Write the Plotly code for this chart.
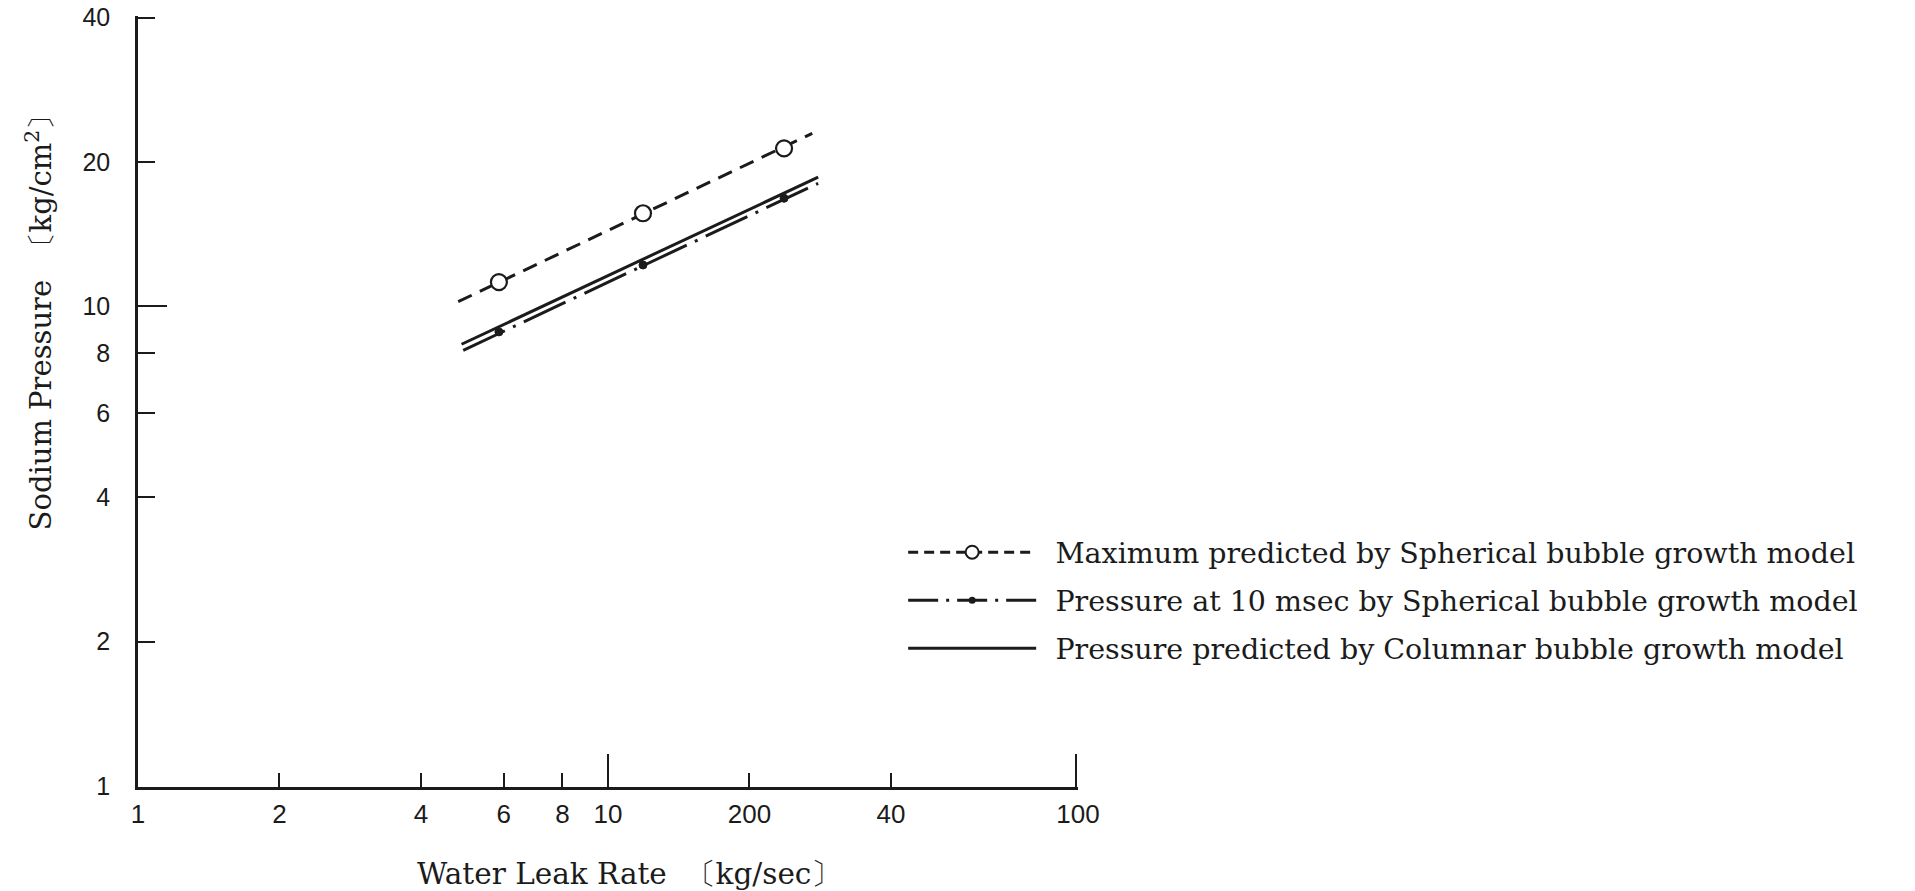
import plotly.graph_objects as go
import math

# ---- data ----
leak_rate_pts = [5.86, 11.87, 23.69]          # kg/sec, marker positions
max_pressure = [11.24, 15.64, 21.36]           # open circles
p10ms_pressure = [8.85, 12.20, 16.81]          # small dots

max_line_x = [4.80, 27.2]
max_line_y = [10.23, 22.95]
p10_line_x = [4.92, 28.0]
p10_line_y = [8.10, 18.06]
col_line_x = [4.88, 28.0]
col_line_y = [8.34, 18.6]

x_tickvals = [1, 2, 4, 6, 8, 10, 20, 40, 100]
x_ticktext = ["1", "2", "4", "6", "8", "10", "200", "40", "100"]
x_long_ticks = [10, 100]
y_tickvals = [1, 2, 4, 6, 8, 10, 20, 40]
y_ticktext = ["1", "2", "4", "6", "8", "10", "20", "40"]
y_long_ticks = [10]

names = [
    "Maximum predicted by Spherical bubble growth model",
    "Pressure at 10 msec by Spherical bubble growth model",
    "Pressure predicted by Columnar bubble growth model",
]

INK = "#1b1b1b"
DASH = "15px,9px"
DASHDOT = "46px,9px,3px,9px"
SERIF = "DejaVu Serif"
SANS = "Liberation Sans"
GAP = "\u2002"

fig = go.Figure()

# lines
fig.add_trace(go.Scatter(x=max_line_x, y=max_line_y, mode="lines",
                         line=dict(color=INK, width=3, dash=DASH), showlegend=False))
fig.add_trace(go.Scatter(x=p10_line_x, y=p10_line_y, mode="lines",
                         line=dict(color=INK, width=3, dash=DASHDOT), showlegend=False))
fig.add_trace(go.Scatter(x=col_line_x, y=col_line_y, mode="lines",
                         line=dict(color=INK, width=3), showlegend=False))
# markers
fig.add_trace(go.Scatter(x=leak_rate_pts, y=max_pressure, mode="markers",
                         marker=dict(symbol="circle", size=16, color="white",
                                     line=dict(color=INK, width=2.2)), showlegend=False))
fig.add_trace(go.Scatter(x=leak_rate_pts, y=p10ms_pressure, mode="markers",
                         marker=dict(symbol="circle", size=8, color=INK,
                                     line=dict(color=INK, width=1)), showlegend=False))

# legend entries
fig.add_trace(go.Scatter(x=[None], y=[None], mode="lines+markers", name=GAP + names[0],
                         legendgroup="a",
                         line=dict(color=INK, width=3, dash="10px,6px"),
                         marker=dict(symbol="circle", size=13, color="white",
                                     line=dict(color=INK, width=2))))
fig.add_trace(go.Scatter(x=[None], y=[None], mode="lines+markers", name=GAP + names[1],
                         legendgroup="b",
                         line=dict(color=INK, width=3, dash="30px,8px,3px,8px"),
                         marker=dict(symbol="circle", size=7, color=INK)))
fig.add_trace(go.Scatter(x=[None], y=[None], mode="lines", name=GAP + names[2],
                         legendgroup="c",
                         line=dict(color=INK, width=3)))

# empty traces so the overlay axes (long ticks) get drawn
fig.add_trace(go.Scatter(x=[None], y=[None], xaxis="x2", yaxis="y",
                         showlegend=False, hoverinfo="skip"))
fig.add_trace(go.Scatter(x=[None], y=[None], xaxis="x", yaxis="y2",
                         showlegend=False, hoverinfo="skip"))

axis_common = dict(type="log", showgrid=False, zeroline=False, showline=True,
                   linecolor=INK, linewidth=2.5, ticks="inside",
                   tickcolor=INK, tickwidth=1.6, automargin=False)

YTOP = math.log10(40)
YR = [-0.002, YTOP + 0.0035]

fig.update_layout(
    width=1915, height=891,
    paper_bgcolor="white", plot_bgcolor="white",
    margin=dict(l=138, r=837, t=16, b=104, autoexpand=False),
    xaxis=dict(**axis_common, range=[0, 2], tickvals=x_tickvals, ticktext=x_ticktext,
               ticklen=14, tickfont=dict(family=SANS, size=26, color=INK),
               ticklabelstandoff=2),
    yaxis=dict(**axis_common, range=YR, tickvals=y_tickvals,
               ticktext=y_ticktext, ticklen=17,
               tickfont=dict(family=SANS, size=25, color=INK),
               ticklabelstandoff=20),
    xaxis2=dict(type="log", overlaying="x", anchor="y", side="bottom",
                range=[-0.005, 2.005],
                showgrid=False, zeroline=False, showline=False, ticks="inside",
                tickvals=x_long_ticks, ticklen=33, tickwidth=1.8, tickcolor=INK,
                showticklabels=False, automargin=False),
    yaxis2=dict(type="log", overlaying="y", anchor="x", side="left",
                range=YR, showgrid=False, zeroline=False,
                showline=False, ticks="inside", tickvals=y_long_ticks, ticklen=29,
                tickwidth=1.8, tickcolor=INK, showticklabels=False, automargin=False),
    legend=dict(x=0.814, xanchor="left", y=0.337, yanchor="top",
                font=dict(family=SERIF, size=28.5, color=INK),
                itemwidth=128, tracegroupgap=8, traceorder="grouped",
                bgcolor="rgba(0,0,0,0)"),
    annotations=[
        dict(text="Sodium Pressure  〔kg/cm<sup>2</sup>〕", xref="paper", yref="paper",
             x=-0.105, y=0.612, xanchor="center", yanchor="middle",
             textangle=-90, showarrow=False,
             font=dict(family=SERIF, size=29, color=INK)),
        dict(text="Water Leak Rate  〔kg/sec〕", xref="paper", yref="paper",
             x=0.522, y=-0.113, xanchor="center", yanchor="middle", showarrow=False,
             font=dict(family=SERIF, size=29.5, color=INK)),
    ],
)

fig.write_html("out.html", post_script="document.body.style.margin='0';",
               config={"displayModeBar": False})
